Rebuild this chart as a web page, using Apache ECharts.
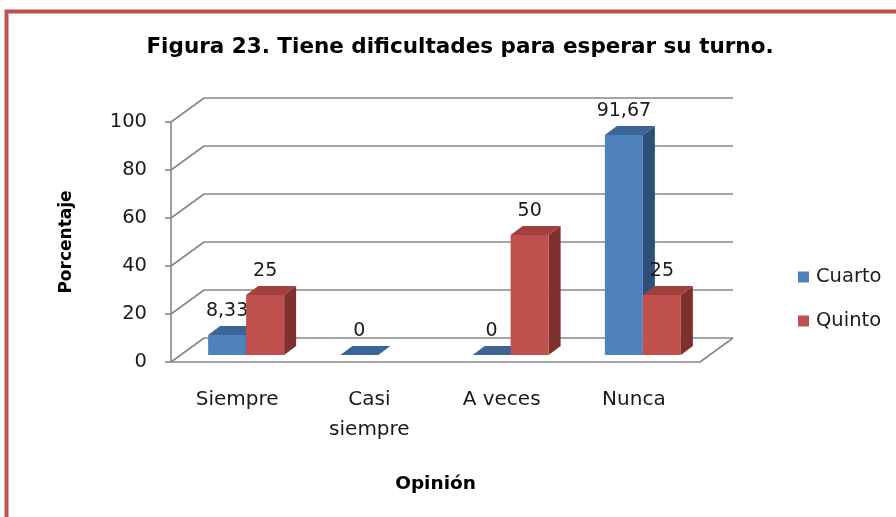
<!DOCTYPE html>
<html>
<head>
<meta charset="utf-8">
<script src="https://cdn.jsdelivr.net/npm/echarts@6/dist/echarts.min.js"></script>
<style>
  html, body { margin: 0; padding: 0; background: #fff; }
  #chart { width: 896px; height: 517px; }
</style>
</head>
<body>
<div id="chart"></div>
<script>
const categories = ['Siempre', 'Casi\nsiempre', 'A veces', 'Nunca']
const cuarto = [8.33, 0, 0, 91.67]
const quinto = [25, null, 50, 25]
const yTicks = [0, 20, 40, 60, 80, 100]

// 3d look
const WALL_DX = 33, WALL_DY = -24   // back wall offset
const BAR_DX = 9, BAR_DY = -7       // plane where bars sit
const DEPTH_DX = 12, DEPTH_DY = -9  // bar depth
const BAR_W = 38
const FONT = 'DejaVu Sans'

const colors = {
  Cuarto: { front: '#4f81bd', top: '#3c6597', side: '#2e4f79' },
  Quinto: { front: '#c0504d', top: '#a1403d', side: '#7e302e' }
}

function toData(arr) {
  const out = []
  arr.forEach((v, i) => { if (v !== null) out.push([i, v]) })
  return out
}

function fmt(v) {
  return String(v).replace('.', ',')
}

function barRenderer(name, left) {
  const c = colors[name]
  return function (params, api) {
    const idx = api.value(0)
    const v = api.value(1)
    const top = api.coord([idx, v])
    const bot = api.coord([idx, 0])
    const x0 = top[0] + BAR_DX + (left ? -BAR_W : 0)
    const x1 = x0 + BAR_W
    const yt = top[1] + BAR_DY
    const yb = bot[1] + BAR_DY
    return {
      type: 'group',
      children: [
        {
          type: 'polygon',
          shape: { points: [[x1, yb], [x1 + DEPTH_DX, yb + DEPTH_DY], [x1 + DEPTH_DX, yt + DEPTH_DY], [x1, yt]] },
          style: { fill: c.side }
        },
        {
          type: 'rect',
          shape: { x: x0, y: yt, width: BAR_W, height: yb - yt },
          style: { fill: c.front }
        },
        {
          type: 'polygon',
          shape: { points: [[x0, yt], [x1, yt], [x1 + DEPTH_DX, yt + DEPTH_DY], [x0 + DEPTH_DX, yt + DEPTH_DY]] },
          style: { fill: c.top }
        },
        {
          type: 'text',
          style: {
            x: (x0 + x1) / 2, y: yt - 24, text: fmt(v),
            align: 'center', verticalAlign: 'middle',
            font: '19px "' + FONT + '"', fill: '#1a1a1a'
          }
        }
      ]
    }
  }
}

function wallRenderer(params, api) {
  const v = api.value(1)
  const first = api.coord([0, v])
  const last = api.coord([categories.length - 1, v])
  const half = api.size([1, 0])[0] / 2
  const xl = first[0] - half
  const xr = last[0] + half
  const y = first[1]
  const ls = { stroke: '#878787', lineWidth: 1.6 }
  const children = [
    { type: 'line', shape: { x1: xl, y1: y, x2: xl + WALL_DX, y2: y + WALL_DY }, style: ls },
    { type: 'line', shape: { x1: xl + WALL_DX, y1: y + WALL_DY, x2: xr + WALL_DX, y2: y + WALL_DY }, style: ls }
  ]
  if (v === 0) {
    children.push({ type: 'line', shape: { x1: xr, y1: y, x2: xr + WALL_DX, y2: y + WALL_DY }, style: ls })
  }
  return { type: 'group', children }
}

const myChart = echarts.init(document.getElementById('chart'))
myChart.setOption({
  backgroundColor: '#fff',
  animation: false,
  textStyle: { fontFamily: FONT },
  graphic: [
    {
      type: 'rect',
      shape: { x: 6.5, y: 11.5, width: 1000, height: 1000 },
      style: { fill: 'none', stroke: '#c0504d', lineWidth: 4 },
      z: 100
    },
    {
      type: 'text',
      x: 460, y: 47,
      style: {
        text: 'Figura 23. Tiene dificultades para esperar su turno.',
        align: 'center', verticalAlign: 'middle',
        font: 'bold 21.5px "' + FONT + '"', fill: '#000'
      }
    }
  ],
  legend: {
    orient: 'vertical',
    left: 793,
    top: 262,
    itemWidth: 11,
    itemHeight: 11,
    itemGap: 24,
    icon: 'rect',
    data: ['Cuarto', 'Quinto'],
    textStyle: { fontSize: 19.5, color: '#1a1a1a', padding: [0, 0, 0, 2] }
  },
  grid: { left: 171, right: 196, top: 122, bottom: 155 },
  xAxis: {
    type: 'category',
    data: categories,
    name: 'Opinión',
    nameLocation: 'middle',
    nameGap: 113,
    nameTextStyle: { fontSize: 18.5, fontWeight: 'bold', color: '#000' },
    axisLine: { lineStyle: { color: '#878787', width: 1.6 } },
    axisTick: { length: 6, lineStyle: { color: '#878787', width: 1.6 } },
    axisLabel: { interval: 0, fontSize: 20, lineHeight: 30, margin: 23, color: '#1a1a1a' }
  },
  yAxis: {
    type: 'value',
    min: 0,
    max: 100,
    interval: 20,
    name: 'Porcentaje',
    nameLocation: 'middle',
    nameGap: 96,
    nameRotate: 90,
    nameTextStyle: { fontSize: 17, fontWeight: 'bold', color: '#000' },
    axisLine: { show: true, lineStyle: { color: '#878787', width: 1.6 } },
    axisTick: { show: true, length: 6, lineStyle: { color: '#878787', width: 1.6 } },
    axisLabel: { fontSize: 19.5, margin: 24, color: '#1a1a1a' },
    splitLine: { show: false }
  },
  series: [
    {
      type: 'custom',
      name: 'walls',
      renderItem: wallRenderer,
      data: yTicks.map(t => [0, t]),
      silent: true,
      z: 1
    },
    {
      type: 'custom',
      name: 'Cuarto',
      renderItem: barRenderer('Cuarto', true),
      itemStyle: { color: colors.Cuarto.front },
      data: toData(cuarto),
      z: 2
    },
    {
      type: 'custom',
      name: 'Quinto',
      renderItem: barRenderer('Quinto', false),
      itemStyle: { color: colors.Quinto.front },
      data: toData(quinto),
      z: 3
    }
  ]
})
</script>
</body>
</html>
